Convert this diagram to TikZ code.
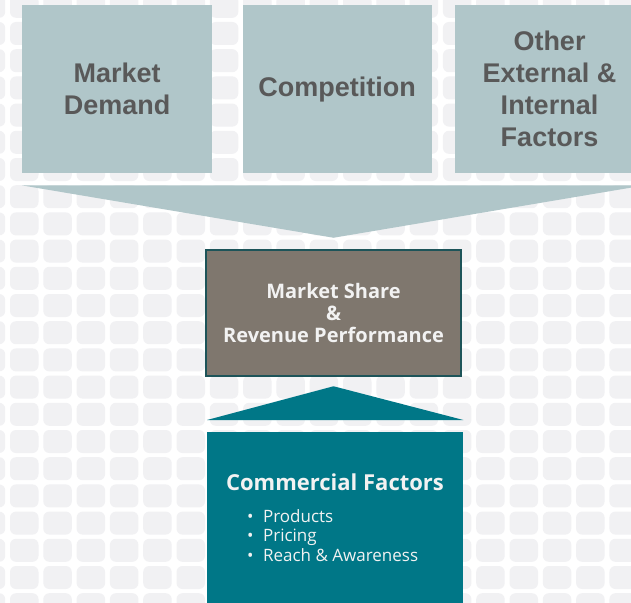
\documentclass[tikz,border=0pt]{standalone}
\usepackage{fontspec}
\setmainfont{Open Sans}
\newfontfamily\arialfont{Liberation Sans}
\usepackage{tikz}
\usetikzlibrary{calc,positioning}

\begin{document}
\begin{tikzpicture}
		[x=1pt,y=-1pt,line join=miter,
		%Styles
		tile/.style={fill=tilegray,rounded corners=6pt},
		factor box/.style={fill=boxblue,text=textgray,minimum width=190pt,minimum height=168pt,inner sep=0pt,align=center,font=\arialfont\bfseries\fontsize{27}{32}\selectfont},
		result box/.style={fill=sharebrown,draw=sharerim,line width=2.5pt,minimum width=255pt,minimum height=126pt,inner sep=0pt,align=center,text=lighttext,font=\bfseries\fontsize{20}{22}\selectfont},
		commercial box/.style={fill=factorteal,minimum width=256pt,minimum height=190pt,inner sep=0pt,anchor=north west},
		list text/.style={text=lighttext,inner sep=0pt,align=left,font=\fontsize{17}{19.5}\selectfont}
		]
		
		%Colors
		\definecolor{tilegray}{HTML}{F1F1F3}
		\definecolor{boxblue}{HTML}{B0C6C9}
		\definecolor{textgray}{HTML}{595959}
		\definecolor{sharebrown}{HTML}{7F776E}
		\definecolor{sharerim}{HTML}{1D5459}
		\definecolor{factorteal}{HTML}{007787}
		\definecolor{lighttext}{HTML}{F2F2F2}
		
		\useasboundingbox (0,0) rectangle (631,602);
		
		%Background tiles
		\fill[white] (0,0) rectangle (631,602);
		\foreach \i in {0,...,19}
			\foreach \j in {0,...,22}
				\fill[tile] ({-23.3+33.3*\i},{-5.2+27.2*\j}) rectangle +(28.5,23);
		
		%The graphic
		\node[factor box,anchor=north west] (demand) at (22,5) {Market\\Demand};
		\node[factor box,minimum width=189pt,right=30pt of demand] (competition) {Competition};
		\node[factor box,minimum width=189pt,right=23pt of competition] (other) {Other\\External \&\\Internal\\Factors};
		
		\node[result box] (share) at (333.5,313) {Market Share\\\&\\Revenue Performance};
		
		\fill[boxblue] ($(demand.south west)+(0,12)$) -- ($(other.south east)+(0,12)$) -- ($(share.north)+(0,-11)$) -- cycle;
		
		\node[commercial box] (commercial) at (207,432) {};
		\fill[factorteal] ($(commercial.north west)+(0,-12)$) -- ($(commercial.north east)+(0,-12)$) -- ($(share.south)+(0,9)$) -- cycle;
		
		\node[anchor=base,text=lighttext,font=\bfseries\fontsize{22}{26}\selectfont] (commercialtitle) at (335,490) {Commercial Factors};
		\node[list text,anchor=north west] (commerciallist) at (247,509) {•\hspace{9.5pt}Products\\•\hspace{9.5pt}Pricing\\•\hspace{9.5pt}Reach \& Awareness};
	\end{tikzpicture}
\end{document}
